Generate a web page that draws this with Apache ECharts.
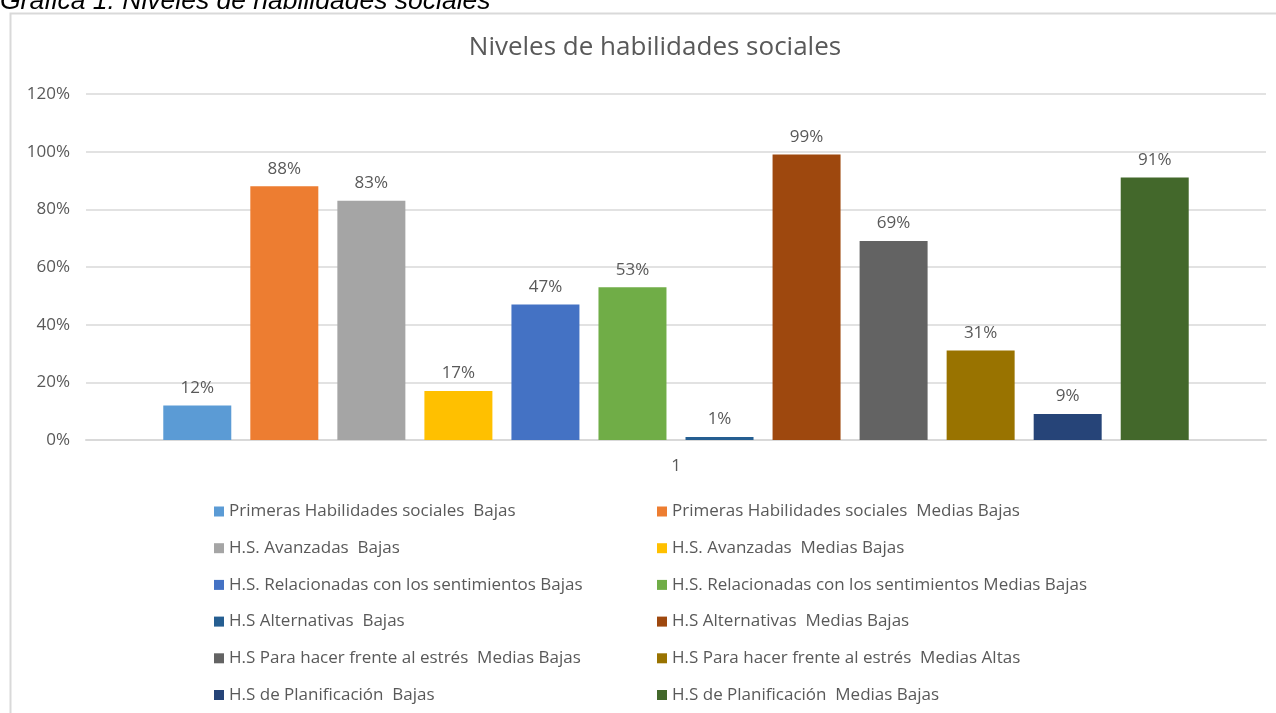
<!DOCTYPE html>
<html>
<head>
<meta charset="utf-8">
<script src="https://cdn.jsdelivr.net/npm/echarts@6/dist/echarts.min.js"></script>
<style>
  html, body { margin: 0; padding: 0; background: #fff; }
  #chart { width: 1276px; height: 713px; }
</style>
</head>
<body>
<div id="chart"></div>
<script>
var categories = ['1'];
var seriesNames = [
  'Primeras Habilidades sociales  Bajas',
  'Primeras Habilidades sociales  Medias Bajas',
  'H.S. Avanzadas  Bajas',
  'H.S. Avanzadas  Medias Bajas',
  'H.S. Relacionadas con los sentimientos Bajas',
  'H.S. Relacionadas con los sentimientos Medias Bajas',
  'H.S Alternativas  Bajas',
  'H.S Alternativas  Medias Bajas',
  'H.S Para hacer frente al estrés  Medias Bajas',
  'H.S Para hacer frente al estrés  Medias Altas',
  'H.S de Planificación  Bajas',
  'H.S de Planificación  Medias Bajas'
];
var seriesValues = [12, 88, 83, 17, 47, 53, 1, 99, 69, 31, 9, 91];
var seriesColors = ['#5B9BD5', '#ED7D31', '#A5A5A5', '#FFC000', '#4472C4', '#70AD47',
                    '#255E91', '#9E480E', '#636363', '#997300', '#264478', '#43682B'];
var yTicks = [0, 20, 40, 60, 80, 100, 120];

var font = 'Open Sans';
var textGray = '#595959';

var series = seriesNames.map(function(name, i){
  return {
    name: name,
    type: 'bar',
    data: [seriesValues[i]],
    barWidth: 68,
    barGap: '28%',
    itemStyle: { color: seriesColors[i] },
    label: {
      show: true,
      position: 'top',
      distance: 9,
      formatter: '{c}%',
      color: textGray,
      fontFamily: font,
      fontSize: 17
    }
  };
});

var leftNames = seriesNames.filter(function(n, i){ return i % 2 === 0; });
var rightNames = seriesNames.filter(function(n, i){ return i % 2 === 1; });

function legendAt(left, names){
  return {
    data: names,
    orient: 'vertical',
    left: left,
    top: 496.5,
    itemWidth: 10,
    itemHeight: 10,
    itemGap: 16.7,
    icon: 'rect',
    selectedMode: false,
    textStyle: { color: textGray, fontFamily: font, fontSize: 17, lineHeight: 20 }
  };
}

var chart = echarts.init(document.getElementById('chart'));
chart.setOption({
  animation: false,
  backgroundColor: '#fff',
  title: {
    text: 'Niveles de habilidades sociales',
    left: 650,
    textAlign: 'center',
    top: 30,
    textStyle: { color: textGray, fontFamily: font, fontSize: 26, fontWeight: 'normal' }
  },
  graphic: [
    {
      type: 'rect',
      shape: { x: 10.5, y: 13.5, width: 1300, height: 800 },
      style: { fill: 'none', stroke: '#D9D9D9', lineWidth: 2 },
      silent: true
    },
    {
      type: 'text',
      x: 0,
      y: 15,
      style: {
        text: 'Gráfica 1. Niveles de habilidades sociales',
        fontFamily: 'Liberation Sans',
        fontStyle: 'italic',
        fontSize: 26.5,
        fill: '#000',
        textVerticalAlign: 'bottom'
      }
    }
  ],
  legend: [legendAt(209, leftNames), legendAt(652, rightNames)],
  grid: { left: 86, right: 10, top: 94, bottom: 273, containLabel: false },
  xAxis: {
    type: 'category',
    data: categories,
    axisLine: { lineStyle: { color: '#D9D9D9', width: 2 } },
    axisTick: { show: false },
    axisLabel: { color: textGray, fontFamily: font, fontSize: 17, margin: 18 }
  },
  yAxis: {
    type: 'value',
    min: yTicks[0],
    max: yTicks[yTicks.length - 1],
    interval: 20,
    axisLine: { show: false },
    axisTick: { show: false },
    splitLine: { lineStyle: { color: '#D9D9D9', width: 1.5 } },
    axisLabel: { formatter: '{value}%', color: textGray, fontFamily: font, fontSize: 17, margin: 16 }
  },
  series: series
});
</script>
</body>
</html>
